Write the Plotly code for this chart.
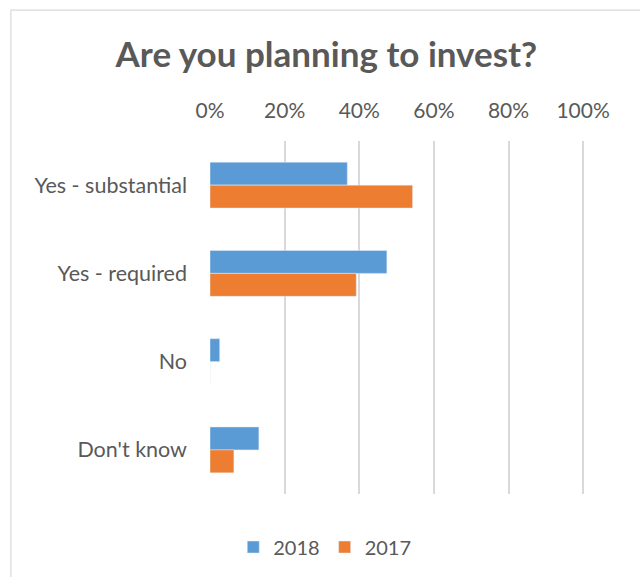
import plotly.graph_objects as go

# Survey answers and share of respondents per year
categories = ["Yes - substantial", "Yes - required", "No", "Don't know"]
share_2018 = [0.368, 0.474, 0.026, 0.131]
share_2017 = [0.543, 0.392, 0.0, 0.064]
tick_values = [0, 0.2, 0.4, 0.6, 0.8, 1.0]

TEXT = "#595959"
GRID = "#D9D9D9"
FONT = "Lato, Calibri, sans-serif"

fig = go.Figure()
fig.add_trace(go.Bar(name="2018", y=categories, x=share_2018, orientation="h",
                     marker=dict(color="#5B9BD5")))
fig.add_trace(go.Bar(name="2017", y=categories, x=share_2017, orientation="h",
                     marker=dict(color="#ED7D31")))

fig.update_layout(
    width=640, height=577,
    margin=dict(l=210, r=55, t=141, b=82),
    paper_bgcolor="white", plot_bgcolor="white",
    barmode="group", bargap=0.48, bargroupgap=0,
    font=dict(family=FONT, color=TEXT, size=21),
    title=dict(text="<b>Are you planning to invest?</b>", x=0.51, xanchor="center",
               y=0.905, yanchor="middle",
               font=dict(family=FONT, size=35, color=TEXT)),
    xaxis=dict(side="top", range=[0, 1.005], tickvals=tick_values, tickformat=".0%",
               showgrid=True, gridcolor=GRID, gridwidth=1.5, zeroline=False,
               showline=False, ticks="", ticklabelstandoff=18,
               tickfont=dict(size=21, color=TEXT)),
    yaxis=dict(autorange="reversed", showgrid=False, zeroline=False, showline=False,
               ticks="", ticklabelstandoff=22, tickfont=dict(size=21.5, color=TEXT)),
    legend=dict(orientation="h", x=0.306, xanchor="center", y=-0.147, yanchor="middle",
                font=dict(size=20, color=TEXT), itemwidth=30, traceorder="normal"),
    showlegend=True,
    shapes=[dict(type="rect", xref="paper", yref="paper",
                 x0=-0.531, x1=1.149, y0=-0.3, y1=1.371,
                 line=dict(color=GRID, width=1.2), fillcolor="rgba(0,0,0,0)",
                 layer="below")],
)

fig.write_html("out.html")
